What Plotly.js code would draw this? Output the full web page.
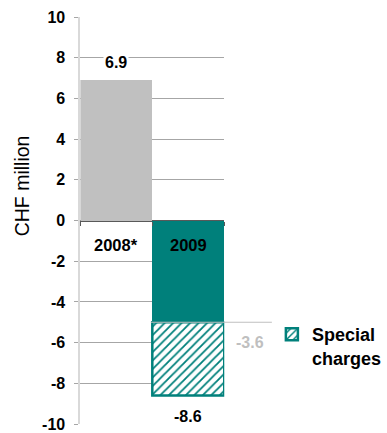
<!DOCTYPE html>
<html>
<head>
<meta charset="utf-8">
<script src="https://cdn.plot.ly/plotly-3.0.1.min.js"></script>
<style>html,body{margin:0;padding:0;background:#fff;}#chart{width:387px;height:433px;}</style>
</head>
<body>
<div id="chart"></div>
<script>
// Operating result, CHF million
const categories = ['2008*', '2009'];
const baseValues = [6.9, -5.0];          // 2008 result and 2009 result before special charges
const specialCharges = [null, -3.6];     // special charges in 2009
const totals = [6.9, -8.6];              // reported totals
const tickValues = [-10, -8, -6, -4, -2, 0, 2, 4, 6, 8, 10];

const TEAL = '#00807B';
const GREY = '#C0C0C0';
const FONT = 'Liberation Sans, Arial, sans-serif';

const traces = [
  {
    type: 'bar', x: [0], y: [baseValues[0]],
    marker: {color: GREY}, showlegend: false, hoverinfo: 'skip'
  },
  {
    type: 'bar', x: [1], y: [baseValues[1]],
    marker: {color: TEAL}, showlegend: false, hoverinfo: 'skip'
  },
  {
    type: 'bar', x: [0, 1], y: specialCharges, name: '<b>Special<br>charges</b>',
    marker: {
      color: '#ffffff',
      line: {color: TEAL, width: 2.5},
      pattern: {shape: '/', fgcolor: TEAL, bgcolor: '#ffffff', size: 6, solidity: 0.3, fillmode: 'replace'}
    },
    showlegend: true, hoverinfo: 'skip'
  }
];

const annotations = [
  {x: 0, y: totals[0], text: '<b>6.9</b>', showarrow: false, yanchor: 'bottom', yshift: 7,
   font: {family: FONT, size: 16, color: '#000'}, bgcolor: '#fff', borderpad: 1},
  {x: 1, y: totals[1], text: '<b>-8.6</b>', showarrow: false, yanchor: 'top', yshift: -10,
   font: {family: FONT, size: 16, color: '#000'}, bgcolor: '#fff', borderpad: 1},
  {xref: 'paper', yref: 'paper', x: 252 / 387, y: 1 - 342 / 433, xanchor: 'center', yanchor: 'middle',
   text: '<b>' + specialCharges[1].toFixed(1) + '</b>', showarrow: false,
   font: {family: FONT, size: 16, color: '#BFBFBF'}},
  {x: 0, y: -1.18, text: '<b>' + categories[0] + '</b>', showarrow: false,
   font: {family: FONT, size: 16.5, color: '#000'}},
  {x: 1, y: -1.18, text: '<b>' + categories[1] + '</b>', showarrow: false,
   font: {family: FONT, size: 16.5, color: '#000'}},
  {xref: 'paper', yref: 'paper', x: 22.5 / 387, y: 1 - 186 / 433, xanchor: 'center', yanchor: 'middle',
   text: 'CHF million', textangle: -90,
   showarrow: false, font: {family: FONT, size: 19.5, color: '#000'}}
];

const shapes = [
  // leader line from the special-charges block to its label
  {type: 'line', xref: 'paper', yref: 'y', x0: 152 / 387, x1: 274 / 387, y0: baseValues[1], y1: baseValues[1],
   line: {color: '#BFBFBF', width: 1.2}, layer: 'above'}
];

const layout = {
  width: 387, height: 433,
  margin: {l: 0, r: 0, t: 0, b: 0},
  paper_bgcolor: '#fff', plot_bgcolor: 'rgba(0,0,0,0)',
  barmode: 'relative', bargap: 0,
  xaxis: {
    domain: [81 / 387, 226 / 387], range: [-0.5, 1.5],
    anchor: 'free', position: 1 - 221 / 433,
    tickvals: [-0.5, 0.5, 1.5], ticks: 'outside', ticklen: 4, tickwidth: 1.5, tickcolor: '#595959',
    showgrid: false, zeroline: false, showticklabels: false, showline: false, fixedrange: true
  },
  yaxis: {
    domain: [1 - 424 / 433, 1 - 17 / 433], range: [-10, 10],
    tickvals: tickValues, ticktext: tickValues.map(String),
    tickfont: {family: FONT, size: 16, color: '#000', weight: 'bold'},
    ticks: 'outside', ticklen: 4, tickcolor: '#A6A6A6', tickwidth: 1, ticklabelstandoff: 6,
    showgrid: true, gridcolor: '#A6A6A6', gridwidth: 1,
    zeroline: true, zerolinecolor: '#595959', zerolinewidth: 2,
    showline: true, linecolor: '#D9D9D9', linewidth: 2,
    fixedrange: true
  },
  showlegend: true,
  legend: {
    x: 274 / 387, y: 1 - 316 / 433, xanchor: 'left', yanchor: 'top', valign: 'top',
    font: {family: FONT, size: 18, color: '#000'},
    itemwidth: 30, bgcolor: 'rgba(0,0,0,0)', tracegroupgap: 0
  },
  annotations: annotations,
  shapes: shapes
};

Plotly.newPlot('chart', traces, layout, {displayModeBar: false, staticPlot: true});
</script>
</body>
</html>
